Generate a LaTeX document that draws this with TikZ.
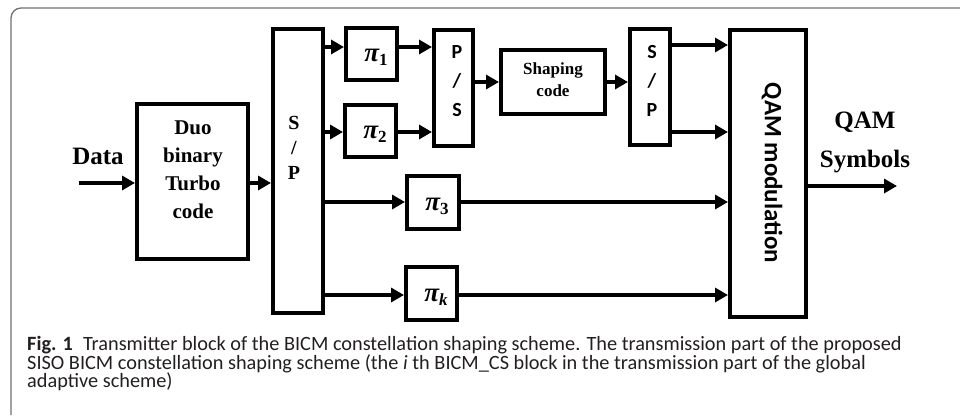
\documentclass[tikz,border=0pt]{standalone}
\usepackage{fontspec}
\setmainfont{Liberation Serif}
\newfontfamily\labsans{Carlito}
\newfontfamily\capfont{Carlito}
\usetikzlibrary{arrows.meta}
\definecolor{capcol}{HTML}{231F20}
\definecolor{framecol}{HTML}{707070}
\newcommand{\piname}[1]{{\fontsize{27}{27}\selectfont\bfseries\itshape π}\raisebox{-4pt}{\fontsize{17}{17}\selectfont\bfseries #1}}
\begin{document}
\begin{tikzpicture}[x=1pt,y=-1pt,
  blk/.style={draw,line width=4pt,inner sep=0pt},
  arr/.style={line width=4pt,-{Triangle[length=13pt,width=14pt]}},
  serifl/.style={font=\fontsize{21}{28}\selectfont\bfseries,align=center,inner sep=0pt},
  sansl/.style={font=\fontsize{20}{29}\labsans\bfseries,align=center,inner sep=0pt},
  pil/.style={inner sep=0pt},
  capl/.style={font=\fontsize{20.3}{19}\capfont,text=capcol,anchor=base west,inner sep=0pt}]
\useasboundingbox (0,0) rectangle (960,415);
% frame
\draw[framecol,line width=1.3pt,rounded corners=10pt] (11,415) -- (11,8) -- (960,8);
% blocks
\node[blk,minimum width=111pt,minimum height=155pt] (duo) at (192.5,181.5) {};
\node[serifl] (duot) at (193,170) {Duo\\binary\\Turbo\\code};
\node[blk,minimum width=50pt,minimum height=284pt] (sp1) at (298,171) {};
\node[serifl,font=\fontsize{20}{25}\selectfont\bfseries] (sp1t) at (294,148) {S\\/\\P};
\node[blk,minimum width=51pt,minimum height=52pt] (pi1) at (371.5,54) {};
\node[pil] at (376,57) {\piname{1}};
\node[blk,minimum width=51pt,minimum height=52pt] (pi2) at (370.5,131) {};
\node[pil] at (375,134) {\piname{2}};
\node[blk,minimum width=39pt,minimum height=116pt] (ps) at (453.5,88) {};
\node[sansl] (pst) at (457,81) {P\\/\\S};
\node[blk,minimum width=104pt,minimum height=64pt] (shp) at (553,82) {};
\node[serifl,font=\fontsize{17}{22}\selectfont\bfseries] (shpt) at (553,80) {Shaping\\code};
\node[blk,minimum width=40pt,minimum height=116pt] (sp2) at (650,87) {};
\node[sansl] (sp2t) at (652,81) {S\\/\\P};
\node[blk,minimum width=52pt,minimum height=53pt] (pi3) at (433,202.5) {};
\node[pil] at (437,206) {\piname{3}};
\node[blk,minimum width=51pt,minimum height=53pt] (pik) at (431.5,293.5) {};
\node[pil] at (436,297) {\piname{\itshape k}};
\node[blk,minimum width=76pt,minimum height=287pt] (qam) at (768,173.5) {};
\node[rotate=-90,font=\fontsize{25}{30}\labsans\bfseries,inner sep=0pt] (qamt) at (772,173) {QAM modulation};
% texts
\node[font=\fontsize{25}{30}\selectfont\bfseries,inner sep=0pt] (data) at (98,156) {Data};
\node[font=\fontsize{25}{39}\selectfont\bfseries,align=center,inner sep=0pt] (sym) at (865,142) {QAM\\Symbols};
% row coordinates
\coordinate (din) at (79,183);
\coordinate (r183) at (0,183);
\coordinate (r47) at (0,47);
\coordinate (r132) at (0,132);
\coordinate (r82) at (0,82);
\coordinate (r45) at (0,45);
\coordinate (r202) at (0,202);
\coordinate (r295) at (0,295);
\coordinate (out) at (897,186);
% arrows
\draw[arr] (din) -- (din -| duo.west);
\draw[arr] (duo.east |- r183) -- (sp1.west |- r183);
\draw[arr] (sp1.east |- r47) -- (pi1.west |- r47);
\draw[arr] (sp1.east |- r132) -- (pi2.west |- r132);
\draw[arr] (pi1.east |- r47) -- (ps.west |- r47);
\draw[arr] (pi2.east |- r132) -- (ps.west |- r132);
\draw[arr] (ps.east |- r82) -- (shp.west |- r82);
\draw[arr] (shp.east |- r82) -- (sp2.west |- r82);
\draw[arr] (sp2.east |- r45) -- (qam.west |- r45);
\draw[arr] (sp2.east |- r132) -- (qam.west |- r132);
\draw[arr] (sp1.east |- r202) -- (pi3.west |- r202);
\draw[arr] (pi3.east |- r202) -- (qam.west |- r202);
\draw[arr] (sp1.east |- r295) -- (pik.west |- r295);
\draw[arr] (pik.east |- r295) -- (qam.west |- r295);
\draw[arr] (qam.east |- out) -- (out);
% caption
\node[capl] (cap1) at (27,350.5) {\textbf{Fig. 1}\hspace{0.5em}Transmitter block of the BICM constellation shaping scheme. The transmission part of the proposed};
\node[capl] (cap2) at (27,369) {SISO BICM constellation shaping scheme (the \textit{i} th BICM\_CS block in the transmission part of the global};
\node[capl] (cap3) at (27,387.5) {adaptive scheme)};
\end{tikzpicture}
\end{document}
